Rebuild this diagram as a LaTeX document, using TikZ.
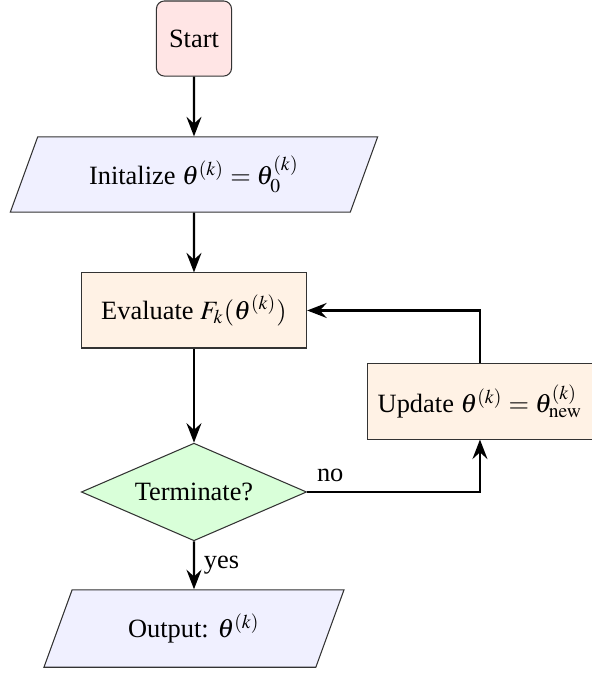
\documentclass[tikz,border=0pt]{standalone}
\usepackage{mathptmx}
\usepackage{fontspec}
\setmainfont{LiberationSerif}[Extension=.ttf,UprightFont=*-Regular,ItalicFont=*-Italic,BoldFont=*-Bold,BoldItalicFont=*-BoldItalic]
\usetikzlibrary{shapes.geometric,arrows.meta}
\tikzset{
	startbox/.style={draw=black!80,thin,fill=red!10,rounded corners=3pt,minimum width=1cm,minimum height=1cm},
	iobox/.style={draw=black!80,thin,fill=blue!6,trapezium,trapezium left angle=70,trapezium right angle=110,minimum height=1cm},
	procbox/.style={draw=black!80,thin,fill=orange!10,minimum width=3cm,minimum height=1cm},
	testbox/.style={draw=black!80,thin,fill=green!15,diamond,aspect=2.3,inner sep=1pt,minimum width=3cm,minimum height=1.3cm},
	flow/.style={-{Stealth[length=2.6mm,width=2mm,inset=0.9mm]},thick}
}

\begin{document}
\begin{tikzpicture}
		\useasboundingbox (0,0) rectangle (7.883,-8.988);
		\node[startbox] (start) at (2.583,-0.513) {Start};
		\node[iobox,minimum width=4.9cm] (init) at (2.583,-2.324) {Initalize $\theta^{(k)}=\theta_0^{(k)}$};
		\node[procbox] (eval) at (2.583,-4.134) {Evaluate $F_k(\theta^{(k)})$};
		\node[testbox] (term) at (2.583,-6.551) {Terminate?};
		\node[procbox] (update) at (6.391,-5.346) {Update $\theta^{(k)}=\theta_{\mathrm{new}}^{(k)}$};
		\node[iobox,minimum width=4cm] (output) at (2.583,-8.369) {Output: $\theta^{(k)}$};
		\draw[flow] (start) -- (init);
		\draw[flow] (init) -- (eval);
		\draw[flow] (eval) -- (term);
		\draw[flow] (term) -- node[right]{yes} (output);
		\draw[flow] (term.east) -| node[pos=0,above right]{no} (update.south);
		\draw[flow] (update.north) |- (eval.east);
	\end{tikzpicture}
\end{document}
